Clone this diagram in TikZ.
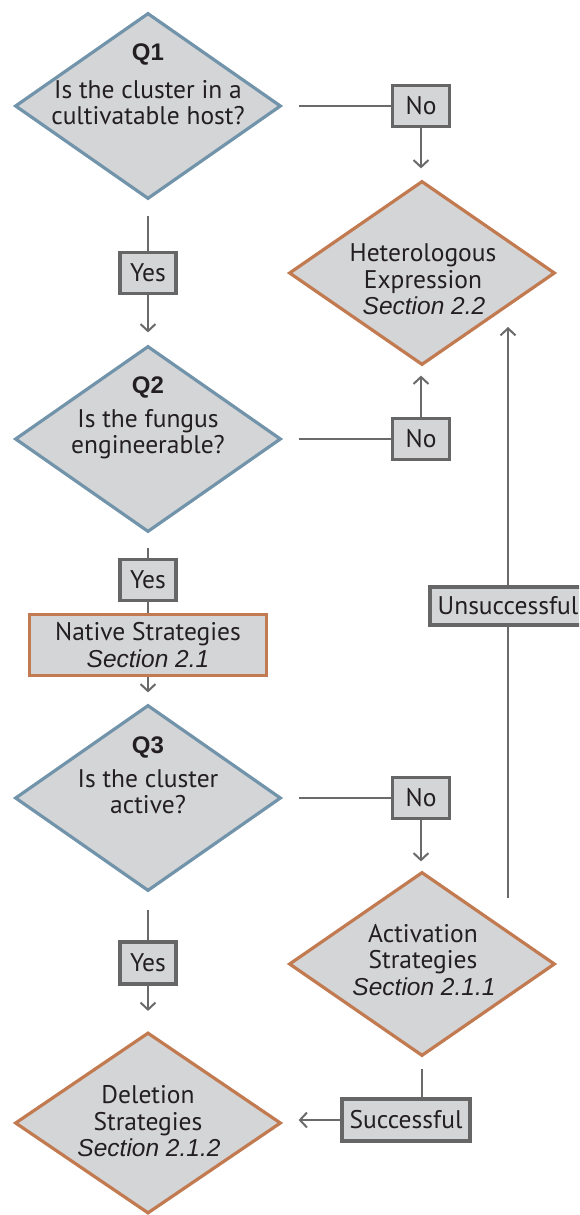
\documentclass[tikz,border=0pt]{standalone}
\usepackage{fontspec}
\setmainfont{PT Sans}
\newfontfamily\hfont{Liberation Sans}
\usetikzlibrary{shapes.geometric,arrows.meta,calc}
\definecolor{boxfill}{HTML}{D4D5D7}
\definecolor{qblue}{HTML}{7294AB}
\definecolor{sorange}{HTML}{C27A50}
\definecolor{lblgray}{HTML}{666666}
\definecolor{conngray}{HTML}{6A6A6A}
\definecolor{txtcol}{HTML}{231F20}
\tikzset{
  qdiam/.style={diamond, draw=qblue, fill=boxfill, line width=3.2pt, inner sep=0pt, minimum width=266pt, minimum height=186pt},
  sdiam/.style={diamond, draw=sorange, fill=boxfill, line width=3.2pt, inner sep=0pt, minimum width=266pt, minimum height=184pt},
  lbl/.style={draw=lblgray, fill=boxfill, line width=3.6pt, inner sep=0pt, text=txtcol, font=\fontsize{25.5}{27}\selectfont},
  sbox/.style={draw=sorange, fill=boxfill, line width=3.2pt, inner sep=0pt, text=txtcol, align=center, font=\fontsize{25.5}{27}\selectfont},
  txt/.style={anchor=base, inner sep=0pt, text=txtcol, font=\fontsize{25.5}{27}\selectfont},
  itx/.style={anchor=base, inner sep=0pt, text=txtcol, font=\fontsize{24.5}{27}\selectfont\hfont\itshape},
  qtx/.style={anchor=base, inner sep=0pt, text=txtcol, font=\fontsize{24}{27}\selectfont\hfont\bfseries},
  conn/.style={draw=conngray, line width=2pt},
  arr/.style={conn, -{Straight Barb[length=7pt,width=15pt,line width=2pt]}}
}
\begin{document}
\begin{tikzpicture}[x=1pt,y=-1pt]
\clip (0,0) rectangle (579,1215);
\fill[white] (0,0) rectangle (579,1215);
% diamonds
\node[qdiam] (q1) at (148,106) {};
\node[qdiam] (q2) at (148,439) {};
\node[qdiam] (q3) at (148,798) {};
\node[sdiam] (het) at (422,273) {};
\node[sdiam] (act) at (422,964) {};
\node[sdiam, minimum height=181pt] (del) at (148,1123) {};
% diamond texts
\node[qtx] (q1a) at (148,60) {Q1};
\node[txt] (q1b) at (148,98) {Is the cluster in a};
\node[txt] (q1c) at (148,124) {cultivatable host?};
\node[qtx] (q2a) at (148,393) {Q2};
\node[txt] (q2b) at (148,427) {Is the fungus};
\node[txt] (q2c) at (148,453) {engineerable?};
\node[qtx] (q3a) at (148,753) {Q3};
\node[txt] (q3b) at (148,787) {Is the cluster};
\node[txt] (q3c) at (148,813) {active?};
\node[txt] (heta) at (423,261) {Heterologous};
\node[txt] (hetb) at (423,288) {Expression};
\node[itx] (hetc) at (424,314) {Section 2.2};
\node[txt] (acta) at (423,942) {Activation};
\node[txt] (actb) at (423,968) {Strategies};
\node[itx] (actc) at (424,995) {Section 2.1.1};
\node[txt] (dela) at (148,1103) {Deletion};
\node[txt] (delb) at (148,1130) {Strategies};
\node[itx] (delc) at (149,1156) {Section 2.1.2};
% label boxes
\node[lbl, minimum width=57pt, minimum height=41pt] (no1) at (421,106) {No};
\node[lbl, minimum width=57pt, minimum height=41pt] (no2) at (421,439) {No};
\node[lbl, minimum width=57pt, minimum height=41pt] (no3) at (421,798) {No};
\node[lbl, minimum width=56pt, minimum height=41pt] (yes1) at (148,273) {Yes};
\node[lbl, minimum width=56pt, minimum height=41pt] (yes2) at (148,580) {Yes};
\node[lbl, minimum width=56pt, minimum height=42pt] (yes3) at (148,963) {Yes};
\node[lbl, minimum width=128pt, minimum height=42pt] (succ) at (406,1120) {Successful};
\node[lbl, minimum width=156pt, minimum height=38pt] (unsucc) at (508,606) {Unsuccessful};
\node[sbox, minimum width=237pt, minimum height=61pt] (native) at (148,645) {Native Strategies\\{\hfont\itshape\fontsize{24.5}{27}\selectfont Section 2.1}};
% connectors
\draw[conn] ($(q1.east)+(16,0)$) -- (no1.west);
\draw[arr] (no1.south) -- ($(no1.south |- het.north)+(0,-11)$);
\draw[conn] ($(q1.south)+(0,15)$) -- (yes1.north);
\draw[arr] (yes1.south) -- ($(q2.north)+(0,-12)$);
\draw[conn] ($(q2.east)+(16,0)$) -- (no2.west);
\draw[arr] (no2.north) -- ($(no2.north |- het.south)+(0,9)$);
\draw[conn] ($(q2.south)+(0,14)$) -- (yes2.north);
\draw[conn] (yes2.south) -- (native.north);
\draw[arr] (native.south) -- ($(q3.north)+(0,-11)$);
\draw[conn] ($(q3.east)+(16,0)$) -- (no3.west);
\draw[arr] (no3.south) -- ($(no3.south |- act.north)+(0,-9)$);
\draw[conn] ($(q3.south)+(0,17)$) -- (yes3.north);
\draw[arr] (yes3.south) -- ($(del.north)+(0,-20)$);
\draw[conn] ($(act.south)+(0,11)$) -- (act.south |- succ.north);
\draw[arr] (succ.west) -- ($(succ.west -| del.east)+(16,0)$);
\coordinate (ubot) at (508,898);
\coordinate (utop) at (508,327);
\draw[conn] (ubot) -- (unsucc.south);
\draw[arr] (unsucc.north) -- (utop);
\end{tikzpicture}
\end{document}
